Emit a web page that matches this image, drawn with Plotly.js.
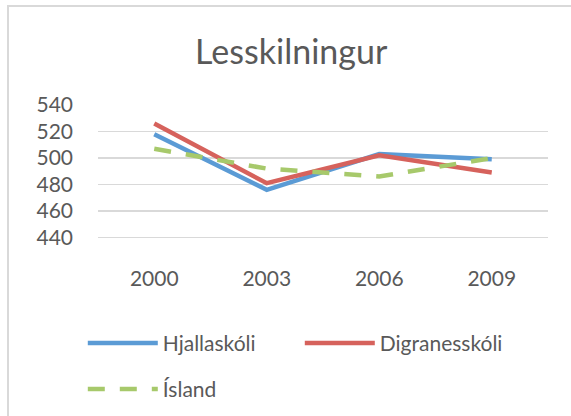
<!DOCTYPE html>
<html>
<head>
<meta charset="utf-8">
<script src="https://cdn.plot.ly/plotly-3.0.1.min.js"></script>
<style>
  html, body { margin: 0; padding: 0; background: #ffffff; }
  #frame { position: absolute; left: 7px; top: 5px; width: 700px; height: 600px; border: 2px solid #d9d9d9; box-sizing: border-box; }
  #chart { position: absolute; left: 0; top: 0; width: 571px; height: 416px; }
</style>
</head>
<body>
<div id="frame"></div>
<div id="chart"></div>
<script>
const years = ['2000', '2003', '2006', '2009'];
const hjallaskoli = [518, 476, 503, 499];
const digranesskoli = [526, 481, 502, 489];
const island = [507, 492, 486, 500];
const yTicks = [440, 460, 480, 500, 520, 540];

const fontFam = 'Lato, "Open Sans", sans-serif';
const textColor = '#595959';

const traces = [
  { x: years, y: hjallaskoli, name: 'Hjallaskóli', type: 'scatter', mode: 'lines',
    line: { color: '#5b9bd5', width: 4.5 }, legend: 'legend' },
  { x: years, y: digranesskoli, name: 'Digranesskóli', type: 'scatter', mode: 'lines',
    line: { color: '#d6625c', width: 4.5 }, legend: 'legend' },
  { x: years, y: island, name: 'Ísland', type: 'scatter', mode: 'lines',
    line: { color: '#a7c96b', width: 4.5, dash: '17px,15px' }, legend: 'legend2' }
];

const legendCommon = {
  orientation: 'h', xanchor: 'left', yanchor: 'top',
  xref: 'container', yref: 'container',
  entrywidth: 132, entrywidthmode: 'pixels', itemwidth: 70,
  font: { size: 21, color: textColor }, bgcolor: 'rgba(0,0,0,0)'
};

const layout = {
  width: 571, height: 416,
  paper_bgcolor: 'rgba(0,0,0,0)',
  plot_bgcolor: 'rgba(0,0,0,0)',
  margin: { l: 98, r: 23, t: 105, b: 152, pad: 0 },
  font: { family: fontFam, color: textColor, size: 21 },
  title: { text: 'Lesskilningur', font: { family: fontFam, size: 34, color: textColor },
    xref: 'container', x: 0.51, xanchor: 'center', yref: 'container', y: 0.875, yanchor: 'middle' },
  xaxis: { type: 'category', range: [-0.5, 3.5], showgrid: false, showline: false, zeroline: false,
    ticks: '', tickfont: { size: 21, color: textColor }, ticklabelstandoff: 0 },
  yaxis: { range: [420, 540], tickvals: yTicks, ticktext: yTicks.map(String), showgrid: true,
    gridcolor: '#d9d9d9', gridwidth: 1.5, showline: false, zeroline: false, ticks: '',
    tickfont: { size: 21, color: textColor }, ticklabelstandoff: 24 },
  showlegend: true,
  legend: Object.assign({}, legendCommon, { x: 0.145, y: 0.224 }),
  legend2: Object.assign({}, legendCommon, { x: 0.145, y: 0.1135 }),
  hovermode: false
};

Plotly.newPlot('chart', traces, layout, { displayModeBar: false, staticPlot: true });
</script>
</body>
</html>
